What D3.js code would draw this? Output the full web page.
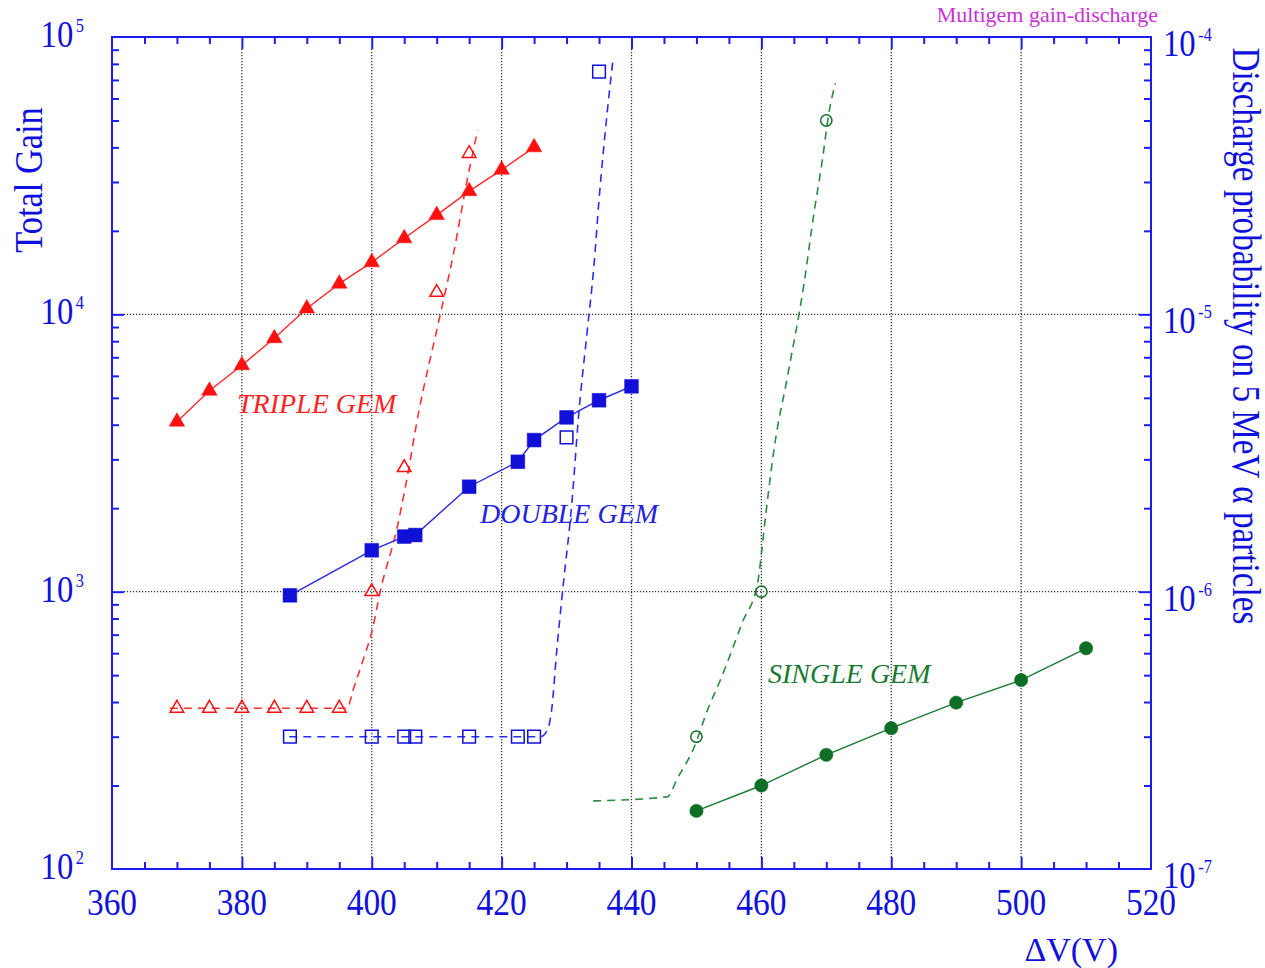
<!DOCTYPE html>
<html>
<head>
<meta charset="utf-8">
<style>
body { margin: 0; background: #fff; }
svg { display: block; font-family: "Liberation Serif", "Times New Roman", serif; }
</style>
</head>
<body>
<svg id="chart" width="1265" height="968"></svg>
<script src="https://d3js.org/d3.v7.min.js"></script>
<script>
// total gain
var tripleV = [370, 375, 380, 385, 390, 395, 400, 405, 410, 415, 420, 425];
var tripleGain = [4100, 5300, 6550, 8200, 10500, 12900, 15400, 18800, 22800, 27800, 33200, 40000];
var doubleV = [387.4, 400, 405, 406.7, 415, 422.5, 425, 430, 435, 440];
var doubleGain = [970, 1410, 1580, 1600, 2390, 2940, 3520, 4250, 4900, 5500];
var singleV = [450, 460, 470, 480, 490, 500, 510];
var singleGain = [162, 200, 258, 322, 398, 480, 625];

// discharge probability
var tripleDischV = [370, 375, 380, 385, 390, 395, 400, 405, 410, 415];
var tripleDisch = [3.8e-7, 3.8e-7, 3.8e-7, 3.8e-7, 3.8e-7, 3.8e-7, 1.0e-6, 2.8e-6, 1.2e-5, 3.8e-5];
var doubleDischV = [387.4, 400, 405, 406.7, 415, 422.5, 425, 430, 435];
var doubleDisch = [3e-7, 3e-7, 3e-7, 3e-7, 3e-7, 3e-7, 3e-7, 3.6e-6, 7.5e-5];
var singleDischV = [450, 460, 470];
var singleDisch = [3.0e-7, 1.0e-6, 5.0e-5];

// dashed discharge curves
var tripleFitV = [368.9, 396.2, 397.1, 398.7, 400.1, 401.3, 403.9, 405.2, 407.2, 410.3, 412.6, 414.7, 416.3];
var tripleFit = [3.8e-7, 3.8e-7, 4.4e-7, 5.7e-7, 7.3e-7, 1.0e-6, 1.7e-6, 2.4e-6, 4.4e-6, 9.4e-6, 1.66e-5, 3.05e-5, 4.6e-5];
var doubleFitV = [387.3, 426.0, 427.05, 427.7, 428.5, 429.3, 430.9, 431.8, 433.2, 434.2, 435.0, 436.3, 437.1];
var doubleFit = [3e-7, 3e-7, 3.17e-7, 3.74e-7, 6.17e-7, 9.6e-7, 2.2e-6, 4.16e-6, 8.8e-6, 1.48e-5, 2.59e-5, 5.46e-5, 8.1e-5];
var singleFitV = [434.1, 445.5, 447.1, 449.6, 451.7, 453.7, 457.1, 459.4, 460.7, 462.0, 464.0, 466.5, 468.1, 469.4, 470.4, 471.4];
var singleFit = [1.76e-7, 1.82e-7, 2.13e-7, 2.73e-7, 3.74e-7, 4.81e-7, 7.78e-7, 1.07e-6, 1.92e-6, 3.33e-6, 5.94e-6, 1.26e-5, 2.32e-5, 3.61e-5, 5.32e-5, 6.82e-5];

var xTickLabels = [360, 380, 400, 420, 440, 460, 480, 500, 520];
var gainTickExp = ["2", "3", "4", "5"];
var dischTickExp = ["-7", "-6", "-5", "-4"];

var svg = d3.select("#chart");
var plotL = 112, plotR = 1151, plotT = 37, plotB = 869;
var axisBlue = "#1c1cf2", textBlue = "#1010dc";
var red = "#ff1010", blue = "#1010d8", green = "#0e6e26";

var x = d3.scaleLinear().domain([360, 520]).range([plotL, plotR]);
var yGain = d3.scaleLog().domain([100, 100000]).range([plotB, plotT]);
var yDisch = d3.scaleLog().domain([1e-7, 1e-4]).range([plotB, plotT]);

// grid
var gridStyle = function(s) {
  s.attr("stroke", "#333").attr("stroke-width", 1.3).attr("stroke-dasharray", "1.2,1.8");
};
svg.append("g").selectAll("line").data([380, 400, 420, 440, 460, 480, 500]).enter().append("line")
  .attr("x1", function(d) { return x(d); }).attr("x2", function(d) { return x(d); })
  .attr("y1", plotT + 12).attr("y2", plotB - 12).call(gridStyle);
svg.append("g").selectAll("line").data([1000, 10000]).enter().append("line")
  .attr("x1", plotL + 12).attr("x2", plotR - 12)
  .attr("y1", function(d) { return yGain(d); }).attr("y2", function(d) { return yGain(d); }).call(gridStyle);

// ticks
var xMinor = d3.range(365, 520, 5).filter(function(d) { return d % 20 != 0; });
var xMajor = [380, 400, 420, 440, 460, 480, 500];
var gainMinor = [], dischMinor = [];
[100, 1000, 10000].forEach(function(b) { for (var k = 2; k < 10; k++) gainMinor.push(b * k); });
[1e-7, 1e-6, 1e-5].forEach(function(b) { for (var k = 2; k < 10; k++) dischMinor.push(b * k); });

function tickAxis(axis, tr) {
  var g = svg.append("g").attr("transform", tr).call(axis.tickFormat(""));
  g.select(".domain").remove();
  g.selectAll("line").attr("stroke", axisBlue).attr("stroke-width", 2);
}
tickAxis(d3.axisBottom(x).tickValues(xMinor).tickSize(-7), "translate(0," + plotB + ")");
tickAxis(d3.axisBottom(x).tickValues(xMajor).tickSize(-12), "translate(0," + plotB + ")");
tickAxis(d3.axisTop(x).tickValues(xMinor).tickSize(-7), "translate(0," + plotT + ")");
tickAxis(d3.axisTop(x).tickValues(xMajor).tickSize(-12), "translate(0," + plotT + ")");
tickAxis(d3.axisLeft(yGain).tickValues(gainMinor).tickSize(-7), "translate(" + plotL + ",0)");
tickAxis(d3.axisLeft(yGain).tickValues([1000, 10000]).tickSize(-12), "translate(" + plotL + ",0)");
tickAxis(d3.axisRight(yDisch).tickValues(dischMinor).tickSize(-7), "translate(" + plotR + ",0)");
tickAxis(d3.axisRight(yDisch).tickValues([1e-6, 1e-5]).tickSize(-12), "translate(" + plotR + ",0)");

svg.append("rect").attr("x", plotL).attr("y", plotT).attr("width", plotR - plotL).attr("height", plotB - plotT)
  .attr("fill", "none").attr("stroke", axisBlue).attr("stroke-width", 2);

// tick labels
svg.append("g").selectAll("g").data(xTickLabels).enter().append("g")
  .attr("transform", function(d) { return "translate(" + x(d) + ",915) scale(0.88,1)"; })
  .append("text").attr("text-anchor", "middle").attr("font-size", 38).attr("fill", textBlue)
  .text(function(d) { return d; });

function powLabel(px, py, anchor, exp) {
  var t = svg.append("g").attr("transform", "translate(" + px + "," + py + ") scale(0.86,1)")
    .append("text").attr("text-anchor", anchor).attr("font-size", 38).attr("fill", textBlue);
  t.append("tspan").text("10");
  t.append("tspan").attr("dx", 3).attr("dy", -15).attr("font-size", 19).text(exp);
}
gainTickExp.forEach(function(e) {
  powLabel(84, yGain(Math.pow(10, +e)) + 10, "end", e);
});
dischTickExp.forEach(function(e) {
  powLabel(1163, yDisch(Math.pow(10, +e)) + 19, "start", e);
});

// axis titles
svg.append("g").attr("transform", "translate(42,180) rotate(-90) scale(0.86,1)")
  .append("text").attr("text-anchor", "middle").attr("font-size", 40).attr("fill", textBlue)
  .text("Total Gain");
svg.append("g").attr("transform", "translate(1233,336) rotate(90) scale(0.81,1)")
  .append("text").attr("text-anchor", "middle").attr("font-size", 41).attr("fill", textBlue)
  .text("Discharge probability on 5 MeV \u03b1 particles");
svg.append("text").attr("x", 1118).attr("y", 961).attr("text-anchor", "end")
  .attr("font-size", 34).attr("fill", textBlue).text("\u0394V(V)");
svg.append("text").attr("x", 1158).attr("y", 22).attr("text-anchor", "end")
  .attr("font-size", 22).attr("fill", "#c832d6").text("Multigem gain-discharge");

// lines
var gainLine = d3.line().x(function(d) { return x(d[0]); }).y(function(d) { return yGain(d[1]); });
var dischLine = d3.line().curve(d3.curveMonotoneX)
  .x(function(d) { return x(d[0]); }).y(function(d) { return yDisch(d[1]); });

function pairs(a, b) { return a.map(function(v, i) { return [v, b[i]]; }); }

[[tripleFitV, tripleFit, "#ff3030"], [doubleFitV, doubleFit, "#2a2aff"], [singleFitV, singleFit, "#2a8a40"]]
  .forEach(function(s) {
    svg.append("path").datum(pairs(s[0], s[1])).attr("d", dischLine)
      .attr("fill", "none").attr("stroke", s[2]).attr("stroke-width", 1.6).attr("stroke-dasharray", "8,6");
  });
[[tripleV, tripleGain, "#ff2a2a"], [doubleV, doubleGain, "#2828e0"], [singleV, singleGain, "#1a7a32"]]
  .forEach(function(s) {
    svg.append("path").datum(pairs(s[0], s[1])).attr("d", gainLine)
      .attr("fill", "none").attr("stroke", s[2]).attr("stroke-width", 1.4);
  });

// markers
function markers(vs, ys, scale, type, size, color, filled) {
  svg.append("g").selectAll("path").data(pairs(vs, ys)).enter().append("path")
    .attr("transform", function(d) { return "translate(" + x(d[0]) + "," + scale(d[1]) + ")"; })
    .attr("d", d3.symbol().type(type).size(size))
    .attr("fill", filled ? color : "none")
    .attr("stroke", color).attr("stroke-width", filled ? 0.5 : 1.5);
}
markers(tripleV, tripleGain, yGain, d3.symbolTriangle, 105, red, true);
markers(doubleV, doubleGain, yGain, d3.symbolSquare, 190, blue, true);
markers(singleV, singleGain, yGain, d3.symbolCircle, 140, green, true);
markers(tripleDischV, tripleDisch, yDisch, d3.symbolTriangle, 80, red, false);
markers(doubleDischV, doubleDisch, yDisch, d3.symbolSquare, 160, blue, false);
markers(singleDischV, singleDisch, yDisch, d3.symbolCircle, 100, green, false);

// series labels
[["TRIPLE GEM", 237, 413, "#ff2424"], ["DOUBLE GEM", 480, 523, "#2222e0"], ["SINGLE GEM", 768, 683, "#1a7a32"]]
  .forEach(function(l) {
    svg.append("text").attr("x", l[1]).attr("y", l[2]).attr("font-size", 28)
      .attr("font-style", "italic").attr("fill", l[3]).text(l[0]);
  });
</script>
</body>
</html>
